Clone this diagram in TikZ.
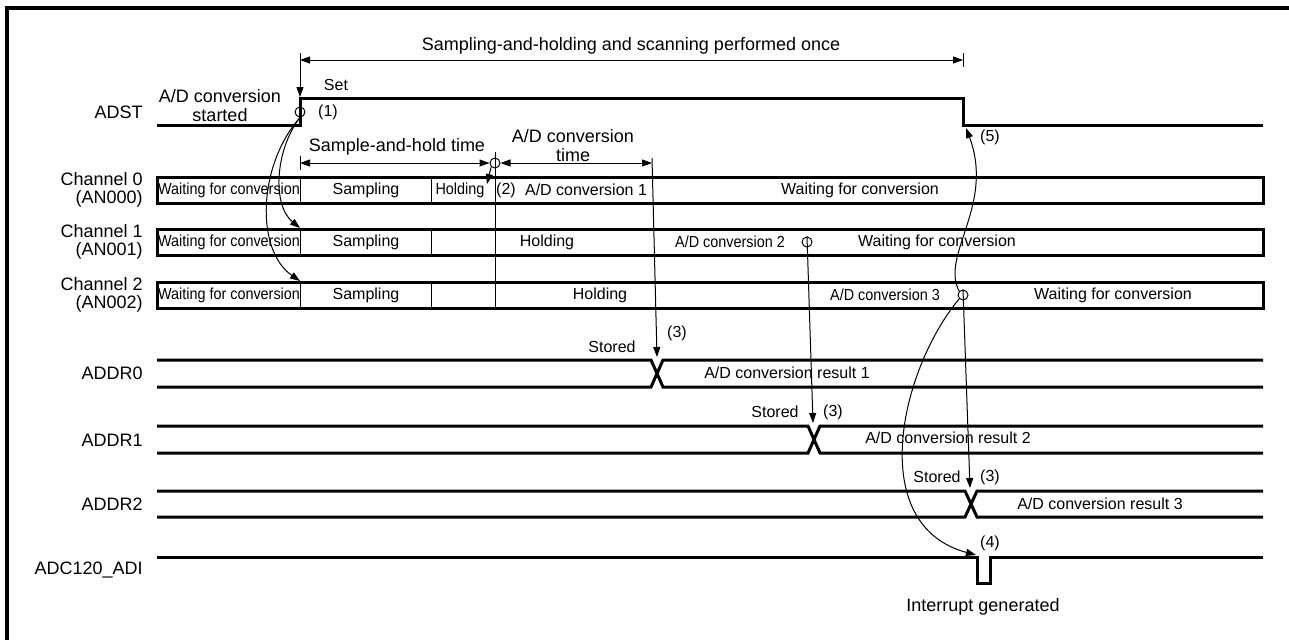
\documentclass[tikz,border=0pt]{standalone}
\usepackage{fontspec}
\setmainfont{Liberation Sans}
\usepackage{graphicx}
\usetikzlibrary{arrows.meta}
\newcommand\squeeze[1]{\scalebox{0.9}[1]{#1}}
\tikzset{
  sig/.style={line width=1.5pt},
  fine/.style={line width=0.5pt},
  frm/.style={line width=2pt},
  sname/.style={anchor=east, align=right, inner sep=0pt, font=\fontsize{9}{9}\selectfont},
  big/.style={align=center, inner sep=0pt, font=\fontsize{9}{9.5}\selectfont},
  sml/.style={inner sep=0pt, font=\fontsize{8}{9}\selectfont},
  ring/.style={circle, draw, line width=0.5pt, inner sep=0pt, minimum size=5pt},
  tip/.style={fine, -{Triangle[length=5pt,width=3.5pt]}},
  dim/.style={fine, {Triangle[length=5pt,width=3.5pt]}-{Triangle[length=5pt,width=3.5pt]}},
}
\begin{document}
\begin{tikzpicture}[x=0.5pt,y=-0.5pt]
\useasboundingbox (0,0) rectangle (1289,639);

% ---------------- frame -----------------------------------------------------------
\draw[frm] (7,650) -- (7,8) -- (1300,8);

% ---------------- signal names ----------------------------------------------------
\node[sname] (nadst) at (143,112) {ADST};
\node[sname] (nch0) at (143,190) {Channel 0\\(AN000)};
\node[sname] (nch1) at (143,242) {Channel 1\\(AN001)};
\node[sname] (nch2) at (143,295) {Channel 2\\(AN002)};
\node[sname] (naddr0) at (143,373) {ADDR0};
\node[sname] (naddr1) at (143,440) {ADDR1};
\node[sname] (naddr2) at (143,504) {ADDR2};
\node[sname] (nadi) at (143,570) {ADC120\_ADI};

% ---------------- timing spans ----------------------------------------------------
\coordinate (rise) at (300,97);
\draw[tip] (300,53) -- (rise);
\draw[fine] (963,53) -- (963,67);
\draw[dim] (300,60) -- (963,60);
\node[big] (tonce) at (631,46) {Sampling-and-holding and scanning performed once};
\node[sml] (tset) at (336,85) {Set};

\node[ring] (c2) at (495,163) {};
\draw[fine] (300,156) -- (300,170);
\draw[dim] (300,163) -- (c2.west);
\draw[dim] (c2.east) -- (652,163);
\node[big] (tsh) at (397,147) {Sample-and-hold time};
\node[big] (tad) at (573,146) {A/D conversion\\time};

% ---------------- ADST ------------------------------------------------------------
\draw[sig] (157,125) -- (300,125) -- (300,98) -- (963,98) -- (963,125) -- (1263,125);
\node[big] (tstart) at (220,106) {A/D conversion\\started};
\node[ring] (c1) at (300,112) {};
\node[sml] (t1) at (328,112) {(1)};

% ---------------- channels --------------------------------------------------------
\foreach \y in {177,229,282} {
  \draw[sig] (157,\y) rectangle (1263,\y+26);
  \draw[fine] (300,\y) -- (300,\y+26);
  \draw[fine] (431,\y) -- (431,\y+26);
  \node[sml] at (229,\y+13) {\squeeze{Waiting for conversion}};
  \node[sml] at (366,\y+13) {Sampling};
}
\draw[fine] (495,152) -- (495,307);

\node[sml] (h0) at (460,190) {\squeeze{Holding}};
\node[sml] (t2) at (506,190) {(2)};
\node[sml] (a1) at (586,190) {A/D conversion 1};
\node[sml] (w0) at (860,190) {Waiting for conversion};

\node[sml] (h1) at (547,242) {Holding};
\node[sml] (a2) at (730,242) {\squeeze{A/D conversion 2}};
\node[ring] (c3) at (807,242) {};
\node[sml] (w1) at (937,242) {Waiting for conversion};

\node[sml] (h2) at (600,295) {Holding};
\node[sml] (a3) at (885,295) {\squeeze{A/D conversion 3}};
\node[ring] (c4) at (963,295) {};
\node[sml] (w2) at (1113,295) {Waiting for conversion};

% ---------------- result registers -----------------------------------------------
\foreach \t/\b/\c in {360/387/657, 426/453/814, 491/517/971} {
  \draw[sig] (157,\t) -- (\c-6,\t) -- (\c+6,\b) -- (1263,\b);
  \draw[sig] (157,\b) -- (\c-6,\b) -- (\c+6,\t) -- (1263,\t);
}
\node[sml] (s0) at (612,347) {Stored};
\node[sml] (k0) at (677,333) {(3)};
\node[sml] (r0) at (787,373) {A/D conversion result 1};
\node[sml] (s1) at (775,412) {Stored};
\node[sml] (k1) at (833,412) {(3)};
\node[sml] (r1) at (948,438) {A/D conversion result 2};
\node[sml] (s2) at (937,477) {Stored};
\node[sml] (k2) at (990,477) {(3)};
\node[sml] (r2) at (1100,504) {A/D conversion result 3};

% ---------------- interrupt -------------------------------------------------------
\draw[sig] (157,557) -- (977,557) -- (977,583) -- (990,583) -- (990,557) -- (1263,557);
\node[sml] (k4) at (990,543) {(4)};
\node[big] (tirq) at (983,607) {Interrupt generated};
\node[sml] (k5) at (990,137) {(5)};

% ---------------- cause arrows ----------------------------------------------------
\coordinate (x0) at (657,357);
\coordinate (x1) at (813,423);
\coordinate (x2) at (970,488);
\coordinate (ch1s) at (300,228);
\coordinate (ch2s) at (300,281);
\coordinate (fall) at (966,128);
\coordinate (irq) at (976,555);
\draw[tip] (c1.south) .. controls (275,150) and (272,205) .. (ch1s);
\draw[tip] (c1.south) .. controls (258,165) and (255,250) .. (ch2s);
\draw[tip] (c2.south west) -- (487,184);
\draw[tip] (652,158) -- (x0);
\draw[tip] (c3.north) -- (x1);
\draw[tip] (c4.north) -- (x2);
\draw[tip] (c4.north west) .. controls (940,255) and (995,205) .. (fall);
\draw[tip] (c4.south west) .. controls (900,370) and (865,525) .. (irq);

\end{tikzpicture}
\end{document}
